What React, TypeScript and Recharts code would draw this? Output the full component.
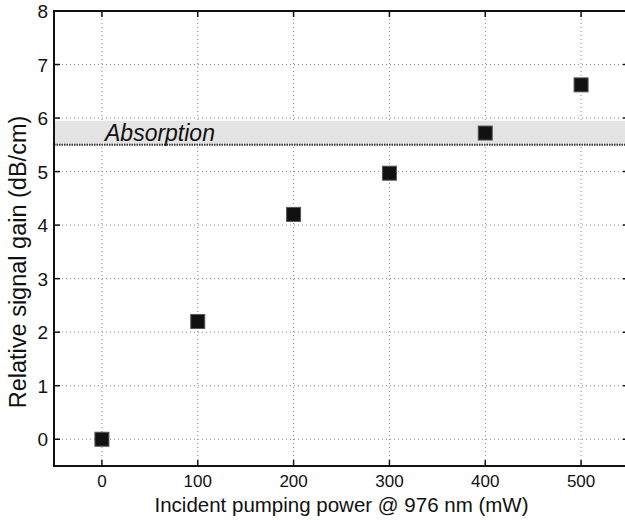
import { ScatterChart, Scatter, XAxis, YAxis, CartesianGrid, ReferenceArea, ReferenceLine } from "recharts";

const pumpPower = [0, 100, 200, 300, 400, 500];
const signalGain = [0, 2.2, 4.2, 4.97, 5.72, 6.62];
const xTicks = [0, 100, 200, 300, 400, 500];
const yTicks = [0, 1, 2, 3, 4, 5, 6, 7, 8];
const xDomain = [-50, 550];
const yDomain = [-0.5, 8];
const absorptionBand = [5.5, 5.95];

const data = pumpPower.map((p, i) => ({ x: p, y: signalGain[i] }));

const W = 629;
const H = 520;
const TOP = 11;
const LEFT = 54;
const XAXIS_H = 54;
const BOTTOM = H - XAXIS_H;
const TICK = 6;
const FONT = "'Liberation Sans', Arial, sans-serif";

const XTick = (props: any) => {
  const { x, payload } = props;
  return (
    <g>
      <line x1={x} x2={x} y1={BOTTOM} y2={BOTTOM - TICK} stroke="#111" strokeWidth={1.5} />
      <line x1={x} x2={x} y1={TOP} y2={TOP + TICK} stroke="#111" strokeWidth={1.5} />
      <text x={x} y={BOTTOM + 21} textAnchor="middle" fontSize={17} fill="#111" fontFamily={FONT}>
        {payload.value}
      </text>
    </g>
  );
};

const YTick = (props: any) => {
  const { y, payload } = props;
  return (
    <g>
      <line x1={LEFT} x2={LEFT + TICK} y1={y} y2={y} stroke="#111" strokeWidth={1.5} />
      <line x1={W} x2={W - TICK} y1={y} y2={y} stroke="#111" strokeWidth={1.5} />
      <text x={LEFT - 6} y={y + 7} textAnchor="end" fontSize={19} fill="#111" fontFamily={FONT}>
        {payload.value}
      </text>
    </g>
  );
};

const SquareMarker = (props: any) => {
  const { cx, cy } = props;
  const s = 14;
  return <rect x={cx - s / 2} y={cy - s / 2} width={s} height={s} fill="#111" stroke="#555" strokeWidth={1} />;
};

const Y_LABEL_X = 26;
const Y_LABEL_Y = 262;

export default function App() {
  return (
    <div style={{ position: "absolute", left: 0, top: 0, width: 625, height: 520, overflow: "hidden", background: "#fff" }}>
      <ScatterChart width={W} height={H} margin={{ top: TOP, right: 0, bottom: 0, left: 0 }}>
        <CartesianGrid stroke="#888" strokeDasharray="1 3" />
        <ReferenceArea
          y1={absorptionBand[0]}
          y2={absorptionBand[1]}
          x1={xDomain[0]}
          x2={xDomain[1]}
          fill="#e4e4e4"
          fillOpacity={1}
          stroke="none"
          ifOverflow="extendDomain"
          label={{
            content: (p: any) => {
              const vb = p.viewBox;
              return (
                <text x={vb.x + 51} y={vb.y + vb.height - 4} fontSize={23} fontStyle="italic" fill="#111" fontFamily={FONT}>
                  Absorption
                </text>
              );
            },
          }}
        />
        <ReferenceLine y={absorptionBand[0]} stroke="#333" strokeWidth={2} strokeDasharray="1.5 1" />
        <XAxis
          type="number"
          dataKey="x"
          domain={xDomain}
          ticks={xTicks}
          height={XAXIS_H}
          tickLine={false}
          axisLine={{ stroke: "#111", strokeWidth: 2 }}
          tick={XTick}
          label={{ value: "Incident pumping power @ 976 nm (mW)", position: "insideBottom", offset: 8, fontSize: 20.5, fill: "#111", fontFamily: FONT }}
        />
        <YAxis
          type="number"
          dataKey="y"
          domain={yDomain}
          ticks={yTicks}
          width={LEFT}
          tickLine={false}
          axisLine={{ stroke: "#111", strokeWidth: 2 }}
          tick={YTick}
          label={{
            content: () => (
              <text
                x={Y_LABEL_X}
                y={Y_LABEL_Y}
                transform={`rotate(-90 ${Y_LABEL_X} ${Y_LABEL_Y})`}
                textAnchor="middle"
                fontSize={23.5}
                fill="#111"
                fontFamily={FONT}
              >
                Relative signal gain (dB/cm)
              </text>
            ),
          }}
        />
        <ReferenceArea x1={xDomain[0]} x2={xDomain[1]} y1={yDomain[0]} y2={yDomain[1]} fill="none" stroke="#111" strokeWidth={2} />
        <Scatter data={data} shape={SquareMarker} isAnimationActive={false} />
      </ScatterChart>
    </div>
  );
}
